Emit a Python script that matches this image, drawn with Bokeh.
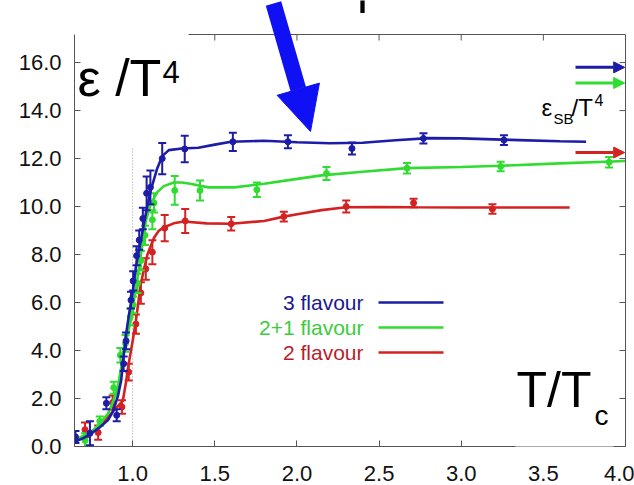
from bokeh.plotting import figure
from bokeh.models import (Range1d, LinearAxis, FixedTicker, PrintfTickFormatter,
                          ColumnDataSource, Arrow, NormalHead, Label)
from bokeh.core.properties import value
from bokeh.embed import file_html
from bokeh.resources import INLINE

# ---- lattice data: energy density eps/T^4 versus T/Tc ----
# 3 flavour
blue_x = [0.652, 0.740, 0.840, 0.903, 0.945, 0.960, 0.990, 1.003, 1.024, 1.040,
          1.062, 1.085, 1.108, 1.180, 1.317, 1.610, 1.945, 2.335, 2.770, 3.260]
blue_y = [0.40, 0.55, 1.80, 1.30, 3.45, 4.40, 6.10, 6.90, 7.95, 8.60,
          9.50, 10.55, 10.80, 12.00, 12.40, 12.70, 12.70, 12.42, 12.84, 12.77]
blue_err = [0.25, 0.50, 0.25, 0.25, 0.30, 0.35, 0.35, 0.40, 0.40, 0.40,
            0.45, 0.70, 0.70, 0.65, 0.55, 0.38, 0.27, 0.25, 0.21, 0.20]

# 2+1 flavour
green_x = [0.710, 0.800, 0.885, 0.925, 0.957, 0.985, 1.003, 1.030, 1.050, 1.075,
           1.120, 1.130, 1.256, 1.410, 1.756, 2.180, 2.670, 3.240, 3.900]
green_y = [0.25, 1.05, 2.45, 3.80, 4.30, 5.40, 5.90, 6.80, 7.75, 8.80,
           9.45, 10.15, 10.67, 10.67, 10.70, 11.38, 11.60, 11.67, 11.85]
green_err = [0.30, 0.20, 0.25, 0.30, 0.35, 0.35, 0.35, 0.40, 0.40, 0.40,
             0.40, 0.40, 0.60, 0.42, 0.30, 0.27, 0.22, 0.20, 0.22]

# 2 flavour
red_x = [0.710, 0.790, 0.878, 0.935, 0.976, 1.020, 1.050, 1.080, 1.120, 1.195,
         1.320, 1.600, 1.920, 2.300, 2.710, 3.190]
red_y = [0.70, 0.58, 1.83, 1.65, 3.10, 5.10, 6.40, 7.40, 8.10, 9.10,
         9.40, 9.28, 9.58, 10.00, 10.15, 9.90]
red_err = [0.30, 0.30, 0.30, 0.28, 0.35, 0.40, 0.45, 0.45, 0.50, 0.55,
           0.50, 0.28, 0.20, 0.25, 0.18, 0.20]

# fitted curves through each data set
blue_fit_x = [0.646, 0.70, 0.75, 0.80, 0.85, 0.88, 0.91, 0.93, 0.957, 0.98, 1.00,
              1.02, 1.05, 1.08, 1.11, 1.15, 1.18, 1.22, 1.30, 1.40, 1.50, 1.60,
              1.80, 2.00, 2.20, 2.40, 2.60, 2.80, 3.00, 3.30, 3.60, 3.76]
blue_fit_y = [0.20, 0.35, 0.55, 0.80, 1.10, 1.45, 2.10, 2.75, 4.55, 5.60, 6.40,
              7.50, 8.60, 9.70, 10.67, 11.60, 12.10, 12.35, 12.42, 12.45, 12.58, 12.70,
              12.74, 12.68, 12.64, 12.66, 12.76, 12.85, 12.84, 12.78, 12.72, 12.70]

green_fit_x = [0.646, 0.70, 0.76, 0.80, 0.85, 0.88, 0.91, 0.945, 0.988, 1.02, 1.05,
               1.08, 1.11, 1.15, 1.19, 1.25, 1.30, 1.35, 1.46, 1.62, 1.80, 1.95,
               2.15, 2.40, 2.67, 3.00, 3.24, 3.60, 4.00]
green_fit_y = [0.25, 0.45, 0.67, 0.95, 1.37, 1.85, 2.47, 3.90, 5.25, 6.60, 8.00,
               9.40, 10.10, 10.60, 10.85, 11.00, 11.00, 10.95, 10.80, 10.80, 10.95, 11.10,
               11.30, 11.45, 11.60, 11.65, 11.70, 11.80, 11.90]

red_fit_x = [0.646, 0.70, 0.76, 0.82, 0.885, 0.94, 0.96, 0.976, 1.00, 1.02, 1.05,
             1.09, 1.13, 1.16, 1.195, 1.25, 1.31, 1.45, 1.60, 1.80, 1.92, 2.02,
             2.15, 2.30, 2.50, 2.71, 3.00, 3.30, 3.66]
red_fit_y = [0.17, 0.40, 0.67, 1.00, 1.50, 1.90, 2.70, 3.45, 4.40, 5.25, 6.80,
             8.00, 8.70, 9.00, 9.15, 9.30, 9.38, 9.30, 9.28, 9.40, 9.58, 9.70,
             9.85, 9.97, 9.98, 9.97, 9.96, 9.96, 9.96]

# Stefan-Boltzmann limits (3, 2+1, 2 flavour)
sb_limits = [15.80, 15.15, 12.25]

series_names = ["3 flavour", "2+1 flavour", "2 flavour"]
y_ticks = [0, 2, 4, 6, 8, 10, 12, 14, 16]
x_ticks = [1.0, 1.5, 2.0, 2.5, 3.0, 3.5, 4.0]
tc = 1.0
tc_line_top = 12.45

# ---- styling ----
FONT = "Liberation Sans"
BLUE, GREEN, RED = "#1c1ca8", "#2fdc2f", "#d42222"
TXT_COLORS = ["#1a1a8e", "#3ccc3c", "#b81e2a"]
ARROW_BLUE = "#1010f4"
AXIS_COLOR = "#555555"
TICK_LEN = 6

# axes box: x 0.646..4.0, y 0..17.17, spanning pixels x 74..625, y 34..446
X0, X1 = 0.646, 4.0
Y0, Y1 = 0.0, 17.17
FL, FT, FW, FH = 74, 34, 551, 412
W, H = 634, 485
Y_TOP = Y1 + FT * (Y1 - Y0) / FH      # the plotting area reaches the top edge


def px_x(px):
    return X0 + (px - FL) * (X1 - X0) / FW


def px_y(py):
    return Y1 - (py - FT) * (Y1 - Y0) / FH


p = figure(width=W, height=H, output_backend="svg", toolbar_location=None,
           x_range=Range1d(X0, X1), y_range=Range1d(Y0, Y_TOP),
           min_border_left=FL, min_border_right=W - FL - FW,
           min_border_top=0, min_border_bottom=H - FT - FH,
           x_axis_location=None, y_axis_location=None)
p.xgrid.visible = False
p.ygrid.visible = False
p.outline_line_color = None
p.background_fill_color = "white"
p.border_fill_color = "white"


def make_axis(ticks, standoff, bounds="auto"):
    return LinearAxis(ticker=FixedTicker(ticks=ticks), bounds=bounds,
                      formatter=PrintfTickFormatter(format="%.1f"),
                      axis_line_color=AXIS_COLOR, axis_line_width=1,
                      major_tick_line_color=AXIS_COLOR,
                      major_tick_in=TICK_LEN, major_tick_out=0,
                      minor_tick_line_color=None,
                      major_label_text_font=FONT,
                      major_label_text_font_size="22px",
                      major_label_text_color="#111111",
                      major_label_standoff=standoff)


p.add_layout(make_axis(y_ticks, 13, bounds=(Y0, Y1)), "left")
p.add_layout(make_axis(x_ticks, 19), "below")
p.add_layout(make_axis([], 0, bounds=(Y0, Y1)), "right")

# top edge of the axes box (left part sits behind the y-axis title) with inward ticks
top_ticks = x_ticks[1:-1]
right_ticks = y_ticks[1:]
dy_tick = TICK_LEN * (Y1 - Y0) / FH
dx_tick = TICK_LEN * (X1 - X0) / FW
p.segment(x0=[px_x(188)], y0=[Y1], x1=[X1], y1=[Y1], line_color=AXIS_COLOR, line_width=1)
p.segment(x0=top_ticks, y0=[Y1] * len(top_ticks), x1=top_ticks,
          y1=[Y1 - dy_tick] * len(top_ticks), line_color=AXIS_COLOR, line_width=1)
p.segment(x0=[X1] * len(right_ticks), y0=right_ticks, x1=[X1 - dx_tick] * len(right_ticks),
          y1=right_ticks, line_color=AXIS_COLOR, line_width=1)

# Tc marker
p.segment(x0=[tc], y0=[Y0], x1=[tc], y1=[tc_line_top], line_color="#999999",
          line_width=1, line_dash="1 2")

# data sets: fit curve, error bars, points
for fx, fy, xs, ys, es, col in [
        (red_fit_x, red_fit_y, red_x, red_y, red_err, RED),
        (green_fit_x, green_fit_y, green_x, green_y, green_err, GREEN),
        (blue_fit_x, blue_fit_y, blue_x, blue_y, blue_err, BLUE)]:
    p.line(fx, fy, line_color=col, line_width=2.6)
    lo = [y - e for y, e in zip(ys, es)]
    hi = [y + e for y, e in zip(ys, es)]
    p.segment(x0=xs, y0=lo, x1=xs, y1=hi, line_color=col, line_width=2)
    p.scatter(xs, lo, marker="dash", size=8, line_color=col, line_width=2)
    p.scatter(xs, hi, marker="dash", size=8, line_color=col, line_width=2)
    p.scatter(xs, ys, marker="circle", size=6, fill_color=col, line_color=col)

# legend: right-aligned names followed by a line sample
leg_rows_y = [px_y(302), px_y(327), px_y(352)]
leg_src = ColumnDataSource(dict(x=[px_x(363)] * 3, y=leg_rows_y, t=series_names,
                                c=TXT_COLORS, lc=[BLUE, GREEN, RED]))
p.text(x="x", y="y", text="t", text_color="c", source=leg_src,
       text_font=value(FONT), text_font_size="21px", text_align="right",
       text_baseline="middle")
p.segment(x0=px_x(378), y0="y", x1=px_x(443), y1="y", line_color="lc",
          line_width=2.6, source=leg_src)

# Stefan-Boltzmann arrows at the right edge
for lim, col in zip(sb_limits, [BLUE, GREEN, RED]):
    p.add_layout(Arrow(x_start=px_x(575), y_start=lim, x_end=X1 - 0.005, y_end=lim,
                       line_color=col, line_width=3,
                       end=NormalHead(size=11, fill_color=col, line_color=col)))


def block(cx, cy, w, h, color):
    """Solid rectangle centred on (cx, cy) pixels, drawn as a padded blank label."""
    p.add_layout(Label(x=px_x(cx), y=px_y(cy), text=" ", text_font_size="1px",
                       anchor="center",
                       background_fill_color=color, background_fill_alpha=1.0,
                       border_line_color=None,
                       padding=(int(round(w / 2)), int(round(h / 2)))))


# white panel behind the x-axis title, interrupting the bottom axis
block(564, 407, 98, 90, "white")


def label(px, baseline_py, text, size, color="black"):
    p.add_layout(Label(x=px_x(px), y=px_y(baseline_py - 0.37 * size), text=text,
                       text_font=FONT, text_font_size=f"{size}px", text_color=color,
                       text_align="left", text_baseline="middle"))


# y-axis title
label(77, 97, "ε /T", 52)
label(162, 83, "4", 31)
# x-axis title
label(516, 408, "T/T", 50)
label(594, 425, "c", 28)
# Stefan-Boltzmann label
label(541, 116, "ε", 24)
label(553, 124, "SB", 15)
label(571, 116, "/T", 24)
label(594, 105, "4", 16)

# highlight arrow
p.add_layout(Arrow(x_start=px_x(273), y_start=px_y(3), x_end=px_x(310), y_end=px_y(131),
                   line_color=ARROW_BLUE, line_width=16,
                   end=NormalHead(size=44, fill_color=ARROW_BLUE, line_color=ARROW_BLUE)))

# fragment of a caption at the top edge
block(362, 6, 4, 13, "black")

open("out.html", "w").write(file_html(p, INLINE))
